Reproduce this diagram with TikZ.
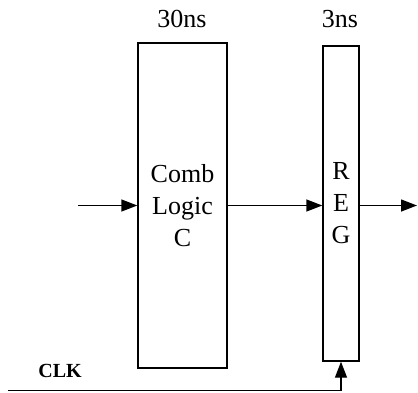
\documentclass[tikz,border=0pt]{standalone}
\usepackage{fontspec}
\setmainfont{Liberation Serif}
\usetikzlibrary{arrows.meta}
\begin{document}
\begin{tikzpicture}[x=1pt,y=-1pt,
  blk/.style={draw,line width=1.4pt,inner sep=0pt,align=center,font=\fontsize{26}{32}\selectfont},
  lbl/.style={inner sep=0pt,font=\fontsize{26}{32}\selectfont},
  wire/.style={line width=1.4pt,-{Triangle[length=16pt,width=12pt]}}]
\useasboundingbox (0,0) rectangle (418,392);
\node[blk,minimum width=89pt,minimum height=325pt] (comb) at (182.5,205.5) {Comb\\Logic\\C};
\node[blk,minimum width=36pt,minimum height=315pt] (reg) at (341,203.5) {R\\E\\G};
\node[lbl] (t1) at (182,19) {30ns};
\node[lbl] (t2) at (340,19) {3ns};
\node[inner sep=0pt,font=\fontsize{20}{24}\selectfont\bfseries] (clkl) at (60,371) {CLK};
\coordinate (in) at (78,205.5);
\coordinate (out) at (417,205.5);
\coordinate (clk) at (8,390.5);
\draw[wire] (in) -- (comb.west);
\draw[wire] (comb.east) -- (comb.east -| reg.west);
\draw[wire] (reg.east |- out) -- (out);
\draw[wire] (clk) -| (reg.south);
\end{tikzpicture}
\end{document}
